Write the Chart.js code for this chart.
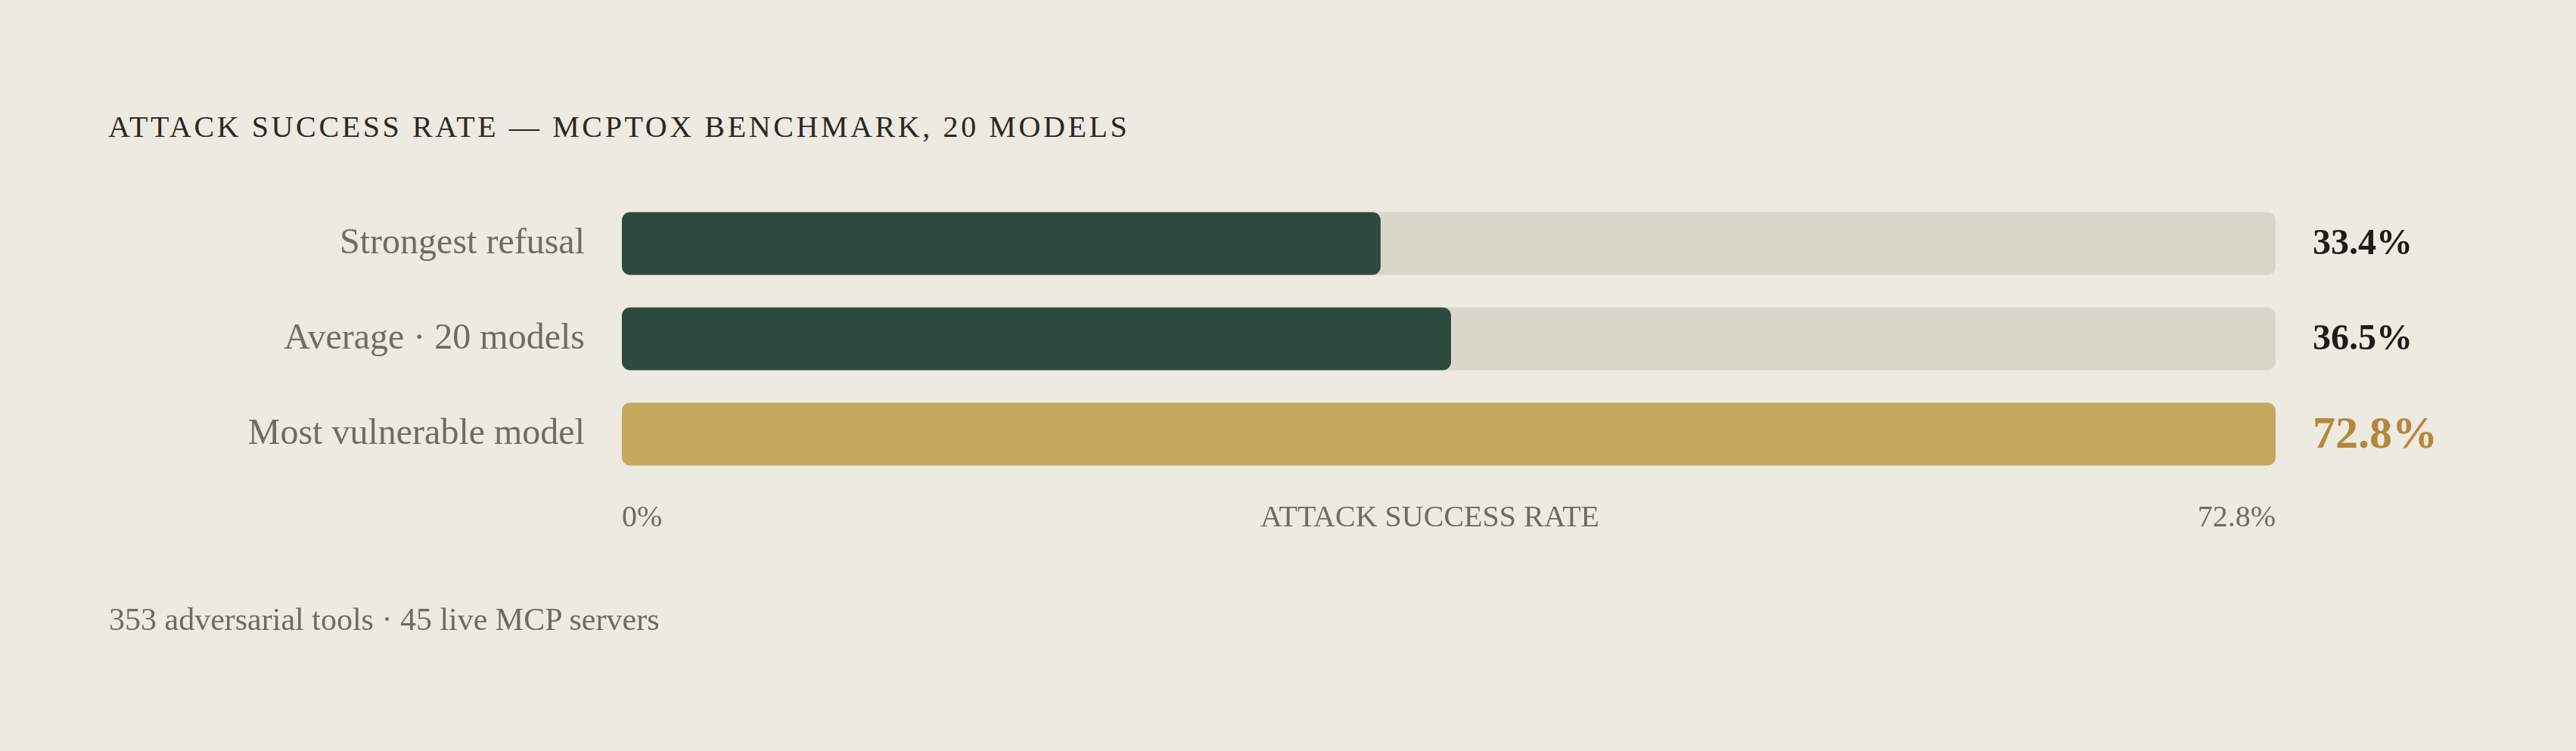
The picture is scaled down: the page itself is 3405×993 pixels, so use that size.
<!DOCTYPE html>
<html>
<head>
<meta charset="utf-8">
<script src="https://cdn.jsdelivr.net/npm/chart.js@4.4.1/dist/chart.umd.min.js"></script>
<style>
  html, body { margin: 0; padding: 0; background: #edeae2; }
  body { width: 3405px; height: 993px; position: relative; overflow: hidden; font-family: "Liberation Serif", serif; }
  #title { position: absolute; left: 143px; top: 148px; font-size: 40px; line-height: 1; letter-spacing: 0.09em; color: #2a2823; white-space: nowrap; }
  #note { position: absolute; left: 144px; top: 798px; font-size: 42px; line-height: 1; color: #6e6b63; white-space: nowrap; }
  #chart { position: absolute; left: 0; top: 0; }
</style>
</head>
<body>
<div id="title">ATTACK SUCCESS RATE — MCPTOX BENCHMARK, 20 MODELS</div>
<canvas id="chart" width="3405" height="993"></canvas>
<div id="note">353 adversarial tools · 45 live MCP servers</div>
<script>
const categories = ['Strongest refusal', 'Average · 20 models', 'Most vulnerable model'];
const asrValues = [33.4, 36.5, 72.8];
const valueLabels = ['33.4%', '36.5%', '72.8%'];
const axisMax = 72.8;
const axisLabels = ['0%', 'ATTACK SUCCESS RATE', '72.8%'];
const highlightIndex = 2;

const green = '#2e4a3f';
const gold = '#c4a95c';
const track = '#d9d6ca';

// value labels at the right end + bottom axis row
const extraText = {
  id: 'extraText',
  afterDatasetsDraw(chart) {
    const { ctx, chartArea, scales } = chart;
    ctx.save();
    ctx.textBaseline = 'middle';
    ctx.textAlign = 'left';
    valueLabels.forEach((txt, i) => {
      const y = scales.y.getPixelForValue(i);
      if (i === highlightIndex) {
        ctx.font = 'bold 60px "Liberation Serif"';
        ctx.fillStyle = '#b5873a';
      } else {
        ctx.font = 'bold 48px "Liberation Serif"';
        ctx.fillStyle = '#1c1c1a';
      }
      ctx.fillText(txt, chartArea.right + 49, y + 2);
    });

    // axis row, spread like space-between
    ctx.font = '40px "Liberation Serif"';
    ctx.fillStyle = '#6e6b63';
    ctx.textBaseline = 'alphabetic';
    const x0 = scales.x.getPixelForValue(0);
    const x1 = scales.x.getPixelForValue(axisMax);
    const w = axisLabels.map(t => ctx.measureText(t).width);
    const gap = (x1 - x0 - w[0] - w[1] - w[2]) / 2;
    const yb = chartArea.bottom + 59;
    ctx.fillText(axisLabels[0], x0, yb);
    ctx.fillText(axisLabels[1], x0 + w[0] + gap, yb);
    ctx.fillText(axisLabels[2], x1 - w[2], yb);
    ctx.restore();
  }
};

const ctx = document.getElementById('chart');

const chart = new Chart(ctx, {
  type: 'bar',
  data: {
    labels: categories,
    datasets: [
      {
        data: asrValues,
        backgroundColor: c => c.dataIndex === highlightIndex ? gold : green,
        borderRadius: 11,
        borderSkipped: false,
        grouped: false,
        categoryPercentage: 1,
        barPercentage: 0.66,
      },
      {
        // background track
        data: categories.map(() => axisMax),
        backgroundColor: track,
        borderRadius: 11,
        borderSkipped: false,
        grouped: false,
        categoryPercentage: 1,
        barPercentage: 0.66,
      }
    ]
  },
  options: {
    indexAxis: 'y',
    responsive: false,
    animation: false,
    layout: {
      padding: { left: 0, right: 397, top: 259, bottom: 356 }
    },
    plugins: {
      legend: { display: false },
      tooltip: { enabled: false },
    },
    scales: {
      x: {
        display: false,
        min: 0,
        max: axisMax,
      },
      y: {
        grid: { display: false, drawTicks: false },
        border: { display: false },
        ticks: {
          color: '#6f6c64',
          font: { family: 'Liberation Serif', size: 48 },
          padding: 49,
        },
        afterFit(scale) {
          scale.width = 822;
        }
      }
    }
  },
  plugins: [extraText]
});
</script>
</body>
</html>
